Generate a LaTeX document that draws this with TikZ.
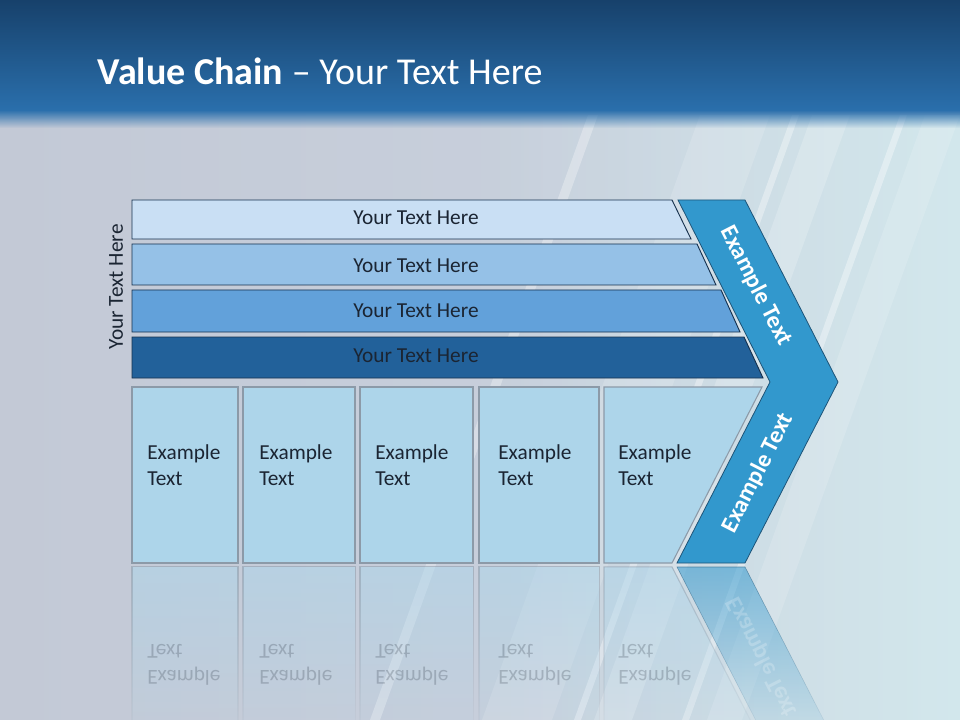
\documentclass[tikz,border=0pt]{standalone}
\usepackage{fontspec}
\setmainfont{Carlito}
\usetikzlibrary{fadings}
\definecolor{bandtop}{HTML}{17416B}
\definecolor{bandbot}{HTML}{2A6FAC}
\definecolor{bgleft}{HTML}{C3C9D6}
\definecolor{bgright}{HTML}{CBD4E0}
\definecolor{glow}{HTML}{D6F0F2}
\definecolor{barA}{HTML}{C9DFF4}
\definecolor{barB}{HTML}{95C1E7}
\definecolor{barC}{HTML}{62A1DA}
\definecolor{barD}{HTML}{22619A}
\definecolor{barline}{HTML}{17324F}
\definecolor{boxfill}{HTML}{ADD5EA}
\definecolor{boxline}{HTML}{8C9AA8}
\definecolor{chevfill}{HTML}{3298CD}
\definecolor{chevline}{HTML}{1D5478}
\definecolor{textdark}{HTML}{1B2533}
\tikzfading[name=fade down, top color=transparent!45, bottom color=transparent!100]
\tikzfading[name=fade out, top color=transparent!0, bottom color=transparent!100]
\tikzfading[name=fade in right, left color=transparent!100, right color=transparent!30]

\begin{document}
\begin{tikzpicture}[x=0.75pt,y=-0.75pt,
  tier/.style={draw=barline, line width=0.7pt},
  cell/.style={draw=boxline, fill=boxfill, line width=0.8pt},
  tiertext/.style={text=textdark, font=\fontsize{16}{19}\selectfont},
  celltext/.style={text=textdark, font=\fontsize{16}{19.5}\selectfont, align=left, anchor=west, inner sep=0pt},
  chevtext/.style={text=white, font=\fontsize{18}{21}\selectfont\bfseries},
  mirror/.style={opacity=.22, yscale=-1},
  streak/.style={fill=white, opacity=#1}, streak/.default=.3]
  \useasboundingbox (0,0) rectangle (960,720);

  % background
  \shade[left color=bgleft, right color=bgright] (0,100) rectangle (960,720);
  \fill[glow, path fading=fade in right] (480,115) -- (960,115) -- (960,720) -- (480,720) -- cycle;
  \fill[streak=.15] (700,115) -- (770,115) -- (552,720) -- (482,720) -- cycle;
  \fill[streak=.35] (792,115) -- (799,115) -- (581,720) -- (574,720) -- cycle;
  \fill[streak=.2] (812,115) -- (850,115) -- (632,720) -- (594,720) -- cycle;
  \fill[streak=.35] (900,115) -- (907,115) -- (689,720) -- (682,720) -- cycle;
  \fill[streak=.15] (925,115) -- (960,115) -- (742,720) -- (707,720) -- cycle;
  \fill[streak=.3] (588,115) -- (598,115) -- (380,720) -- (370,720) -- cycle;
  \shade[top color=bandtop, bottom color=bandbot] (0,0) rectangle (960,110);
  \fill[bandbot, path fading=fade out] (0,110) rectangle (960,128);

  \node[anchor=base west, text=white, font=\fontsize{28.5}{34}\selectfont] (title) at (93,85)
    {\textbf{Value Chain} – Your Text Here};

  % tiers
  \foreach \t/\b/\r/\rb/\ty/\col/\n in {200/239/672/691/218/barA/1, 244/285/697/716/266/barB/2,
      290/332/721/740/311/barC/3, 337/378/744/763/356/barD/4}{
    \draw[tier, fill=\col] (132,\t) -- (\r,\t) -- (\rb,\b) -- (132,\b) -- cycle;
    \node[tiertext] (tier\n) at (416,\ty) {Your Text Here};
  }
  \node[tiertext, rotate=90] (side) at (116,287) {Your Text Here};

  % cells
  \foreach \l/\r/\tx/\n in {132/238/147/1, 243/355/259/2, 360/473/375/3, 479/599/498/4}{
    \draw[cell] (\l,387) rectangle (\r,563);
    \node[celltext] (cell\n) at (\tx,465) {Example\\Text};
  }
  \draw[cell] (604,387) -- (762,387) -- (672,563) -- (604,563) -- cycle;
  \node[celltext] (cell5) at (618,465) {Example\\Text};

  % chevron
  \draw[fill=chevfill, draw=chevline, line width=0.6pt]
    (678,200) -- (745,200) -- (838,382) -- (745,563) -- (677,563) -- (770,382) -- cycle;
  \node[chevtext, rotate=-63] (upper) at (756,286) {Example Text};
  \node[chevtext, rotate=63] (lower) at (758,473) {Example Text};

  % reflection
  \foreach \l/\r/\tx in {132/238/147, 243/355/259, 360/473/375, 479/599/498}{
    \path[cell, path fading=fade down] (\l,567) rectangle (\r,743);
    \node[celltext, mirror] at (\tx,665) {Example\\Text};
  }
  \path[cell, path fading=fade down] (604,567) -- (672,567) -- (762,743) -- (604,743) -- cycle;
  \node[celltext, mirror] at (618,665) {Example\\Text};
  \path[fill=chevfill, draw=chevline, path fading=fade down] (677,567) -- (745,567) -- (838,748) -- (770,748) -- cycle;
  \node[chevtext, mirror, rotate=63] at (762,657) {Example Text};
\end{tikzpicture}
\end{document}
